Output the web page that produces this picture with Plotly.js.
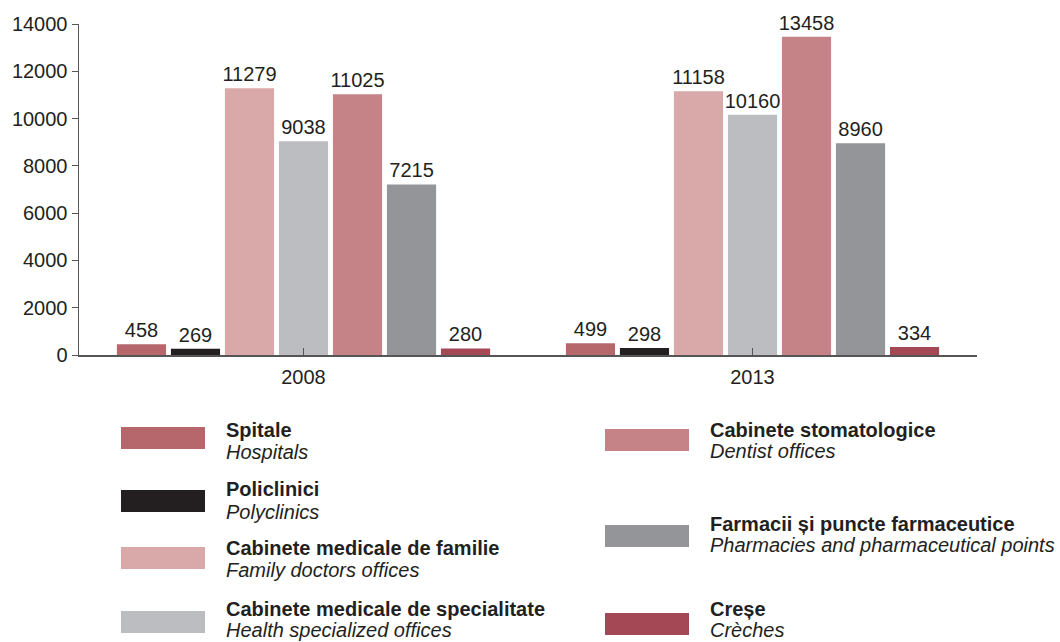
<!DOCTYPE html>
<html>
<head>
<meta charset="utf-8">
<script src="https://cdn.plot.ly/plotly-3.0.1.min.js"></script>
<style>html,body{margin:0;padding:0;background:#fff;}#chart{width:1060px;height:642px;}</style>
</head>
<body>
<div id="chart"></div>
<script>
const years = ["2008", "2013"];
const seriesRo = ["Spitale", "Policlinici", "Cabinete medicale de familie", "Cabinete medicale de specialitate", "Cabinete stomatologice", "Farmacii și puncte farmaceutice", "Creșe"];
const seriesEn = ["Hospitals", "Polyclinics", "Family doctors offices", "Health specialized offices", "Dentist offices", "Pharmacies and pharmaceutical points", "Crèches"];
const spitale = [458, 499];
const policlinici = [269, 298];
const familie = [11279, 11158];
const specialitate = [9038, 10160];
const stomatologice = [11025, 13458];
const farmacii = [7215, 8960];
const crese = [280, 334];
const colors = ["#b5676b", "#231f20", "#d9a9a9", "#bcbdc0", "#c58387", "#939598", "#a54856"];
const values = [spitale, policlinici, familie, specialitate, stomatologice, farmacii, crese];

const W = 1060, H = 642;
const L = 79, R = 977, T = 24, B = 355;
const font = "Liberation Sans, Arial, Helvetica, sans-serif";
const txt = "#231f20";
const FS = 20;

const traces = values.map((v, i) => ({
  type: "bar", x: years, y: v, name: seriesRo[i],
  marker: {color: colors[i]},
  text: v.map(String), textposition: "outside", cliponaxis: false,
  constraintext: "none",
  textfont: {family: font, size: FS, color: txt},
  showlegend: false, hoverinfo: "x+y+name"
}));

// custom legend (layout decoration): swatch left/top, text line centres (pixels)
const px = x => (x - L) / (R - L);
const py = y => (B - y) / (B - T);
const legPos = [
  {x: 121, y: 427, tx: 224, b: 429, it: 451},
  {x: 121, y: 490, tx: 224, b: 488, it: 511},
  {x: 121, y: 547, tx: 224, b: 547, it: 569},
  {x: 121, y: 611, tx: 224, b: 608, it: 629},
  {x: 605, y: 429, tx: 708, b: 429, it: 450},
  {x: 605, y: 525, tx: 708, b: 523, it: 544},
  {x: 605, y: 613, tx: 708, b: 608, it: 629}
];
const shapes = [], annotations = [];
legPos.forEach((p, i) => {
  shapes.push({type: "rect", xref: "paper", yref: "paper",
    x0: px(p.x), x1: px(p.x + 84), y0: py(p.y), y1: py(p.y + 22),
    fillcolor: colors[i], line: {width: 0}});
  annotations.push({xref: "paper", yref: "paper", x: px(p.tx), y: py(p.b + 1),
    xanchor: "left", yanchor: "middle", showarrow: false, align: "left",
    text: "<b>" + seriesRo[i] + "</b>",
    font: {family: font, size: FS, color: txt}});
  annotations.push({xref: "paper", yref: "paper", x: px(p.tx), y: py(p.it + 1),
    xanchor: "left", yanchor: "middle", showarrow: false, align: "left",
    text: "<i>" + seriesEn[i] + "</i>",
    font: {family: font, size: FS, color: txt}});
});

const layout = {
  width: W, height: H,
  margin: {l: L, r: W - R, t: T, b: H - B},
  paper_bgcolor: "#fff", plot_bgcolor: "#fff",
  barmode: "group", bargap: 0.158, bargroupgap: 0.09,
  font: {family: font, size: FS, color: txt},
  xaxis: {
    showline: true, linecolor: "#555", linewidth: 1.5,
    ticks: "inside", tickson: "boundaries", ticklen: 7, tickcolor: "#555",
    tickfont: {family: font, size: FS, color: txt}, ticklabelstandoff: 3,
    showgrid: false, zeroline: false
  },
  yaxis: {
    range: [0, 14000], dtick: 2000, tickformat: "d", showline: true, linecolor: "#555", linewidth: 1.5,
    ticks: "outside", ticklen: 6, tickcolor: "#555",
    tickfont: {family: font, size: FS, color: txt},
    showgrid: false, zeroline: false
  },
  shapes: shapes, annotations: annotations
};

Plotly.newPlot("chart", traces, layout, {displayModeBar: false, staticPlot: true});
</script>
</body>
</html>
